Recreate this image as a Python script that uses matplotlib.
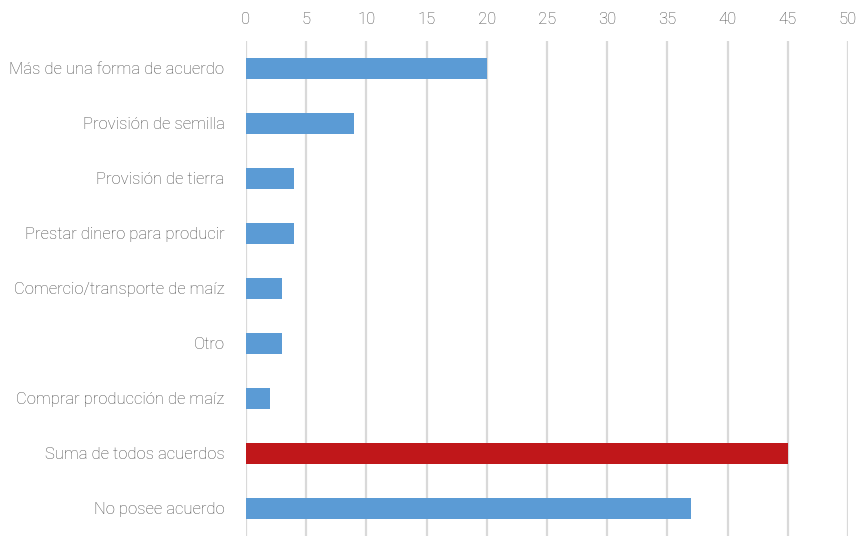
import matplotlib.pyplot as plt

# categories, top to bottom
categories = [
    'Más de una forma de acuerdo',
    'Provisión de semilla',
    'Provisión de tierra',
    'Prestar dinero para producir',
    'Comercio/transporte de maíz',
    'Otro',
    'Comprar producción de maíz',
    'Suma de todos acuerdos',
    'No posee acuerdo',
]
values = [20, 9, 4, 4, 3, 3, 2, 45, 37]
highlight = 'Suma de todos acuerdos'
x_ticks = [0, 5, 10, 15, 20, 25, 30, 35, 40, 45, 50]

blue = '#5B9BD5'
red = '#C0171A'
text_col = '#4a4a4a'

plt.rcParams['font.family'] = ['Roboto', 'DejaVu Sans']

fig = plt.figure(figsize=(8.57, 5.36), dpi=100)
ax = fig.add_axes([0.287, 0.0, 0.7025, 0.9244])

colors = [red if c == highlight else blue for c in categories]
ypos = list(range(len(categories)))
ax.barh(ypos, values, height=0.38, color=colors, zorder=3)

ax.set_ylim(len(categories) - 0.5, -0.5)
ax.set_xlim(0, 50)
ax.set_xticks(x_ticks)
ax.set_yticks(ypos)
ax.set_yticklabels(categories)

ax.xaxis.tick_top()
ax.tick_params(axis='x', length=0, pad=9.5, labelsize=12, labelcolor=text_col)
ax.tick_params(axis='y', length=0, pad=15.5, labelsize=12, labelcolor=text_col)
for lab in ax.get_xticklabels() + ax.get_yticklabels():
    lab.set_fontweight('light')

ax.grid(axis='x', color='#d9d9d9', linewidth=1.6, zorder=0)
ax.grid(axis='y', visible=False)
for s in ['top', 'right', 'bottom', 'left']:
    ax.spines[s].set_visible(False)

fig.savefig('out.png', dpi=100)
